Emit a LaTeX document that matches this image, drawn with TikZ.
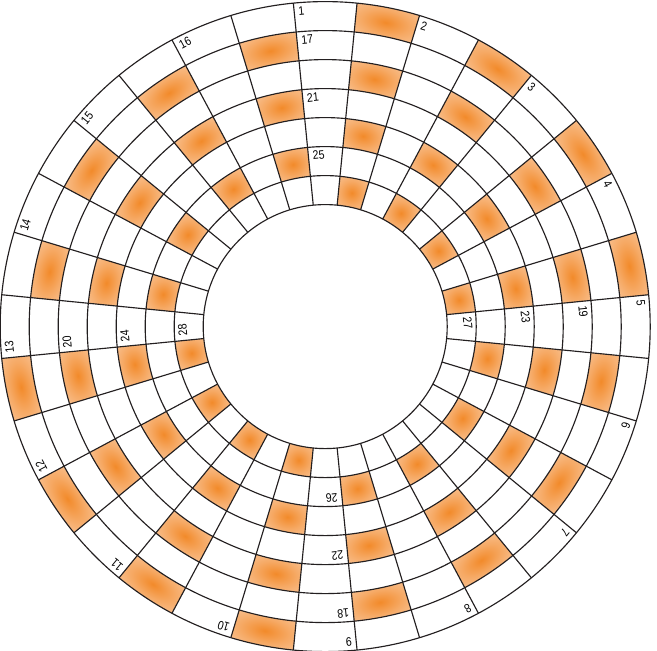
\documentclass[tikz,border=0pt]{standalone}
\usepackage{fontspec}
\setmainfont{Liberation Sans}
\newfontfamily\numfont[FakeStretch=0.86]{Liberation Sans}
\usepackage{tikz}
\definecolor{glowin}{RGB}{242,138,42}
\definecolor{glowmid}{RGB}{246,170,102}
\definecolor{glowout}{RGB}{251,212,180}
\definecolor{gridline}{RGB}{35,31,32}
\pgfdeclareradialshading{cellglow}{\pgfpointorigin}{color(0bp)=(glowin); color(20bp)=(glowmid); color(50bp)=(glowout)}

\begin{document}
\begin{tikzpicture}[x=0.02cm, y=0.02cm,
  gridpen/.style={draw=gridline, line width=0.65pt},
  cell/.style={shading=cellglow},
  num/.style={font=\numfont\fontsize{7}{8}\selectfont, inner sep=0pt, anchor=north west}]
\useasboundingbox (-325.2,-324.4) rectangle (331.8,326.6);
% shaded cells, odd sectors only
\foreach \k in {1,...,7}
{\foreach \s in {1,3,...,31}
 {\pgfmathtruncatemacro\q{floor(\s/8)+\k}
  \ifodd\q
   \pgfmathsetmacro\ro{325-29*(\k-1)}
   \pgfmathsetmacro\ri{\ro-29}
   \begin{scope}[transform canvas={rotate=-11.25*\s}]
   \shade[cell] (84.375:\ro) arc[start angle=84.375, end angle=95.625, radius=\ro]
     -- (95.625:\ri) arc[start angle=95.625, end angle=84.375, radius=\ri] -- cycle;
   \end{scope}
  \fi}}
% rings and spokes
\foreach \j in {0,...,7}
{\draw[gridpen] (0,0) circle ({122+29*\j});}
\foreach \s in {0,...,31}
{\draw[gridpen] ({5.625+11.25*\s}:122) -- ({5.625+11.25*\s}:325);}
% numbers
\foreach \n in {1,...,16}
{\pgfmathsetmacro\a{95.625-22.5*(\n-1)}
 \node[num, rotate=\a-90] at ({\a-229/321}:321) {\n};}
\foreach \n/\k/\a in {17/2/95.625, 18/2/275.625, 19/3/5.625, 20/3/185.625,
  21/4/95.625, 22/4/275.625, 23/5/5.625, 24/5/185.625,
  25/6/95.625, 26/6/275.625, 27/7/5.625, 28/7/185.625}
{\pgfmathsetmacro\r{325-29*(\k-1)-4}
 \node[num, rotate=\a-90] at ({\a-229/\r}:\r) {\n};}
\end{tikzpicture}
\end{document}
